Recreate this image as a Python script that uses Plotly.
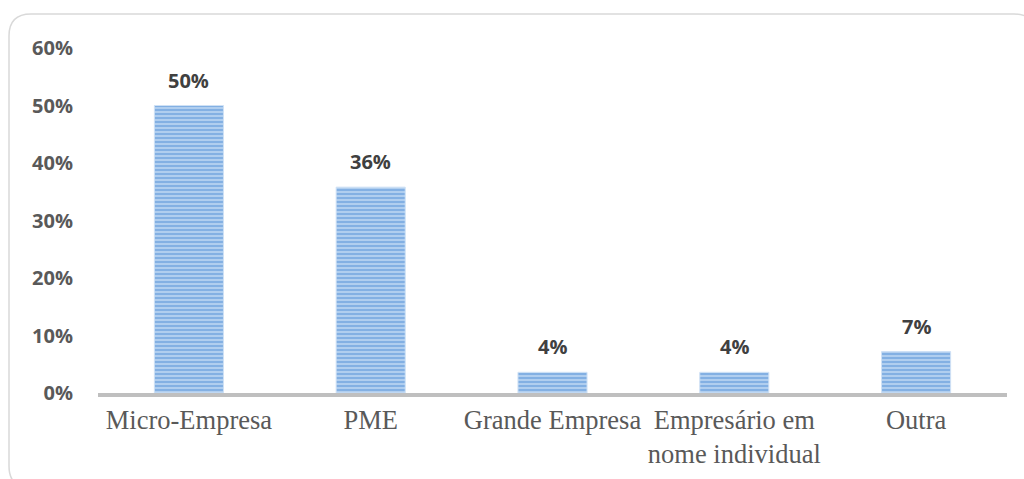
import plotly.graph_objects as go

# Tipo de empresa: share of respondents
categories = ["Micro-Empresa", "PME", "Grande Empresa", "Empresário em<br>nome individual", "Outra"]
shares = [0.50, 0.358, 0.036, 0.036, 0.072]
y_ticks = [0, 0.1, 0.2, 0.3, 0.4, 0.5, 0.6]

W, H = 1024, 479
M_L, M_R, M_T, M_B = 98, 17, 48, 86
PW, PH = W - M_L - M_R, H - M_T - M_B


def px_x(x):
    return (x - M_L) / PW


def px_y(y):
    return (H - M_B - y) / PH


fig = go.Figure()

fig.add_trace(go.Bar(
    x=categories,
    y=shares,
    marker=dict(
        color="#AECCEE",
        line=dict(color="#CFE1F5", width=1),
        pattern=dict(shape="-", bgcolor="#B0CEEF", fgcolor="#78A8E0",
                     size=4, solidity=0.4, fillmode="replace"),
    ),
    hoverinfo="skip",
))

# Value labels above each bar
for cat, v in zip(categories, shares):
    fig.add_annotation(
        x=cat, y=v, text=f"{v:.0%}", showarrow=False,
        xref="x", yref="y", yanchor="bottom", yshift=10,
        font=dict(family="Open Sans", size=20, color="#404040", weight="bold"),
    )

# Rounded chart-area border
x0, x1, y0, y1, r = px_x(9), px_x(1036), px_y(488), px_y(14), 22
rx, ry = r / PW, r / PH
path = (
    f"M {x0 + rx},{y1} L {x1 - rx},{y1} Q {x1},{y1} {x1},{y1 - ry} "
    f"L {x1},{y0 + ry} Q {x1},{y0} {x1 - rx},{y0} "
    f"L {x0 + rx},{y0} Q {x0},{y0} {x0},{y0 + ry} "
    f"L {x0},{y1 - ry} Q {x0},{y1} {x0 + rx},{y1} Z"
)
fig.add_shape(type="path", path=path, xref="paper", yref="paper",
              line=dict(color="#D9D9D9", width=1.5), fillcolor="rgba(0,0,0,0)",
              layer="below")

fig.update_layout(
    width=W, height=H,
    margin=dict(l=M_L, r=M_R, t=M_T, b=M_B, autoexpand=False),
    paper_bgcolor="white", plot_bgcolor="white",
    showlegend=False,
    bargap=0.62,
    xaxis=dict(
        automargin=False,
        showline=True, linecolor="#BFBFBF", linewidth=3.5,
        showgrid=False, zeroline=False,
        ticks="", 
        tickfont=dict(family="Liberation Serif", size=26.5, color="#595959"),
        tickangle=0,
    ),
    yaxis=dict(
        automargin=False,
        range=[0, 0.6], tickvals=y_ticks, tickformat=".0%",
        showgrid=False, zeroline=False, showline=False,
        ticks="outside", ticklen=20, tickcolor="rgba(0,0,0,0)",
        tickfont=dict(family="Open Sans", size=20, color="#595959", weight="bold"),
    ),
)

fig.write_html("out.html")
